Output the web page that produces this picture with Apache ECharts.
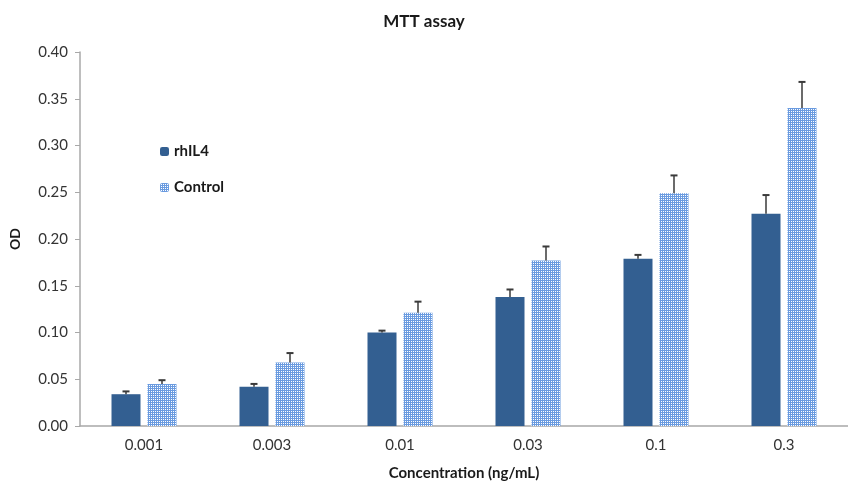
<!DOCTYPE html>
<html><head><meta charset="utf-8">
<script src="https://cdn.jsdelivr.net/npm/echarts@6/dist/echarts.min.js"></script>
<style>html,body{margin:0;padding:0;background:#fff}#c{width:848px;height:486px}</style>
</head><body><div id="c"></div>
<script>
var categories = ['0.001','0.003','0.01','0.03','0.1','0.3'];
var rhIL4 = [0.034, 0.042, 0.100, 0.138, 0.179, 0.227];
var rhIL4Err = [0.003, 0.003, 0.002, 0.008, 0.004, 0.020];
var control = [0.045, 0.068, 0.121, 0.177, 0.249, 0.340];
var controlErr = [0.004, 0.010, 0.012, 0.015, 0.019, 0.028];
var yTicks = ['0.00','0.05','0.10','0.15','0.20','0.25','0.30','0.35','0.40'];

var FONT = 'Lato, "Open Sans", sans-serif';
var BAR_W = 29, GAP = 7;

var pc = document.createElement('canvas');
pc.width = 4; pc.height = 4;
var g = pc.getContext('2d');
g.fillStyle = '#6a9be0'; g.fillRect(0,0,4,4);
g.fillStyle = '#ffffff';
g.fillRect(1,1,1,1); g.fillRect(3,3,1,1); g.fillRect(3,1,1,1); g.fillRect(1,3,1,1);
var pattern = {image: pc, repeat: 'repeat'};

function errSeries(vals, errs, side) {
  return {
    type: 'custom',
    silent: true,
    z: 5,
    data: vals.map(function (v, i) { return [i, v, v + errs[i]]; }),
    renderItem: function (params, api) {
      var base = api.coord([api.value(0), api.value(1)]);
      var top = api.coord([api.value(0), api.value(2)]);
      var x = base[0] + side * (BAR_W + GAP) / 2;
      return {
        type: 'group',
        children: [
          {type: 'line', shape: {x1: x, y1: base[1], x2: x, y2: top[1]}, style: {stroke: '#3a3a3a', lineWidth: 1.5}},
          {type: 'line', shape: {x1: x - 3.5, y1: top[1], x2: x + 3.5, y2: top[1]}, style: {stroke: '#3a3a3a', lineWidth: 2}}
        ]
      };
    }
  };
}

var chart = echarts.init(document.getElementById('c'));
chart.setOption({
  animation: false,
  title: {text: 'MTT assay', left: 'center', top: 8, textStyle: {fontFamily: FONT, fontSize: 17, fontWeight: 'bold', color: '#1a1a1a'}},
  legend: {
    orient: 'vertical', left: 155, top: 139, itemWidth: 9, itemHeight: 9, itemGap: 21,
    textStyle: {fontFamily: FONT, fontSize: 15, fontWeight: 'bold', color: '#1a1a1a'},
    data: ['rhIL4', 'Control']
  },
  grid: {left: 79, right: -3, top: 52, bottom: 59},
  xAxis: {
    type: 'category', data: categories,
    name: 'Concentration (ng/mL)', nameLocation: 'middle', nameGap: 40,
    nameTextStyle: {fontFamily: FONT, fontSize: 15, fontWeight: 'bold', color: '#1a1a1a'},
    axisLine: {lineStyle: {color: '#a8a8a8', width: 1.5}},
    axisTick: {show: false},
    axisLabel: {fontFamily: FONT, fontSize: 15, color: '#333', margin: 12}
  },
  yAxis: {
    type: 'value', min: 0, max: 0.4, interval: 0.05,
    name: 'OD', nameLocation: 'middle', nameGap: 58, nameRotate: 90,
    nameTextStyle: {fontFamily: FONT, fontSize: 14, fontWeight: 'bold', color: '#1a1a1a'},
    axisLine: {show: true, lineStyle: {color: '#a8a8a8', width: 1.5}},
    axisTick: {show: true, length: 5, lineStyle: {color: '#a8a8a8'}},
    splitLine: {show: false},
    axisLabel: {fontFamily: FONT, fontSize: 15, color: '#333', margin: 12,
      formatter: function (v) { return yTicks[Math.round(v / 0.05)]; }}
  },
  series: [
    {name: 'rhIL4', type: 'bar', data: rhIL4, barWidth: BAR_W, barGap: (GAP / BAR_W * 100) + '%',
      itemStyle: {color: '#335f91'}},
    {name: 'Control', type: 'bar', data: control, barWidth: BAR_W,
      itemStyle: {color: pattern}},
    errSeries(rhIL4, rhIL4Err, -1),
    errSeries(control, controlErr, 1)
  ]
});
</script></body></html>
